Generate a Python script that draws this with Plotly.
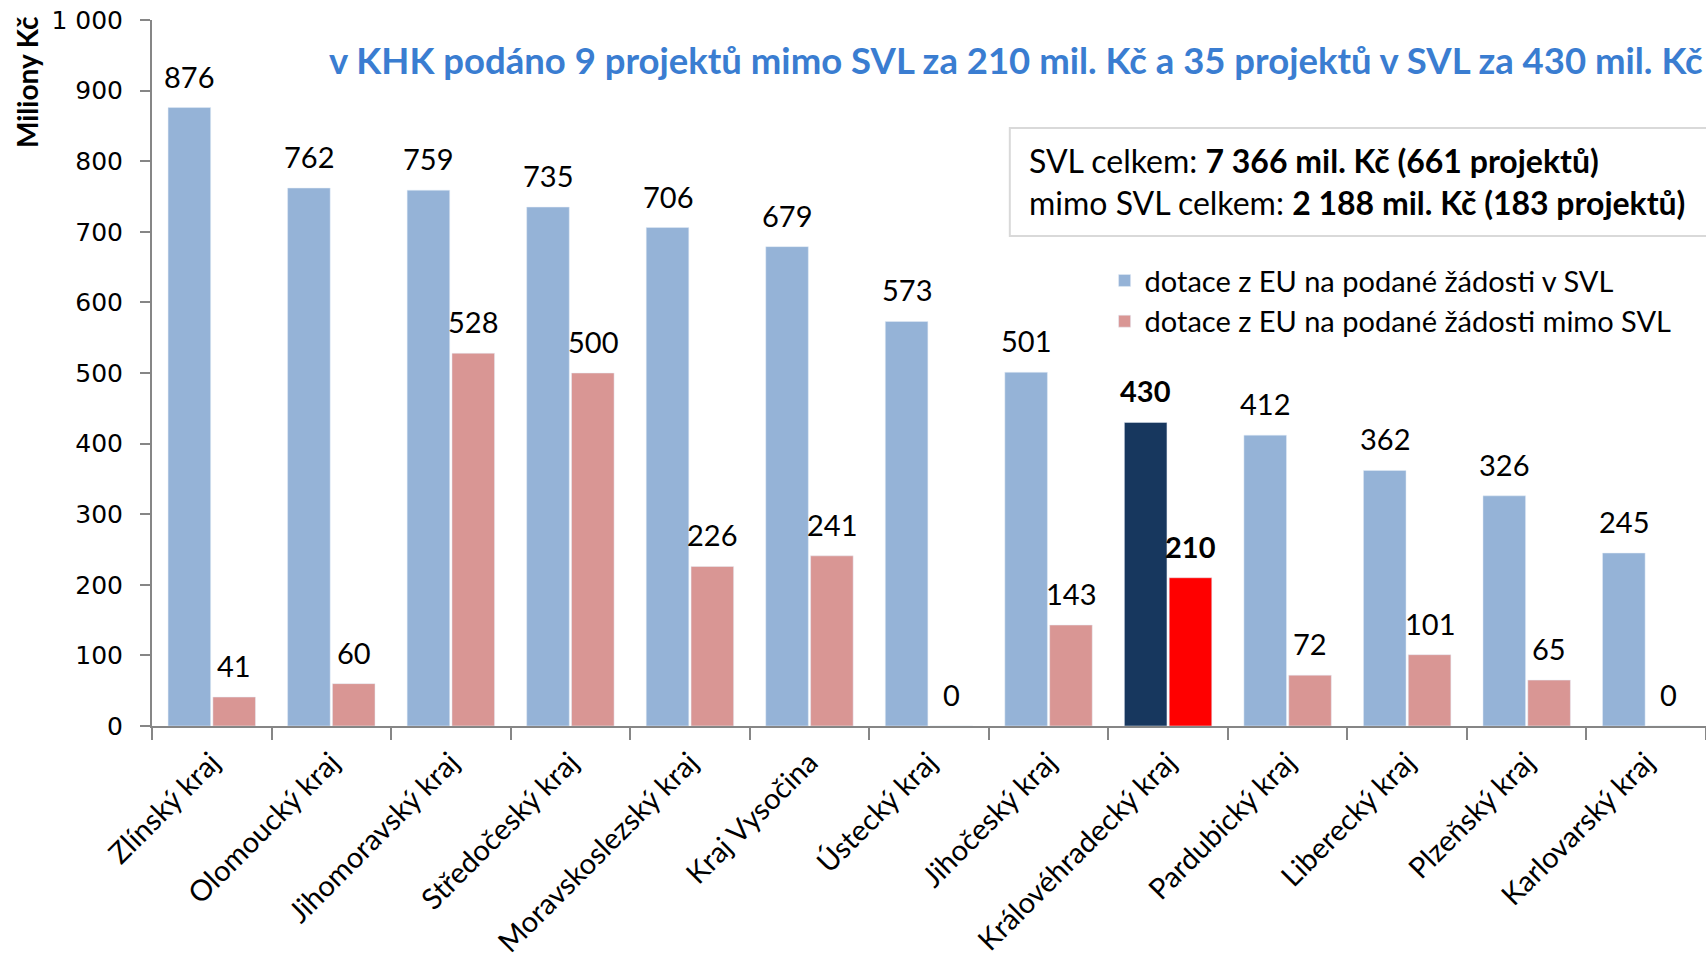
import plotly.graph_objects as go

categories = ["Zlínský kraj", "Olomoucký kraj", "Jihomoravský kraj", "Středočeský kraj",
              "Moravskoslezský kraj", "Kraj Vysočina", "Ústecký kraj", "Jihočeský kraj",
              "Královéhradecký kraj", "Pardubický kraj", "Liberecký kraj", "Plzeňský kraj",
              "Karlovarský kraj"]
svl = [876, 762, 759, 735, 706, 679, 573, 501, 430, 412, 362, 326, 245]
mimo_svl = [41, 60, 528, 500, 226, 241, 0, 143, 210, 72, 101, 65, 0]
y_ticks = [0, 100, 200, 300, 400, 500, 600, 700, 800, 900, 1000]
y_tick_labels = ["0", "100", "200", "300", "400", "500", "600", "700", "800", "900", "1 000"]
highlight = "Královéhradecký kraj"

BLUE = "#95B3D7"
RED = "#D99694"
DARK = "#17375E"
BRIGHT_RED = "#FF0000"
FONT = "Lato, 'Open Sans', sans-serif"

W, H = 1706, 962
ML, MR, MT, MB = 152, 0, 20, 236
BARGAP, GROUPGAP = 0.25, 0.05

def colors(base, hl):
    return [hl if c == highlight else base for c in categories]

def labels(vals):
    return [f"<b>{v}</b>" if c == highlight else str(v) for c, v in zip(categories, vals)]

fig = go.Figure()
fig.add_trace(go.Bar(
    x=categories, y=svl, name="dotace z EU na podané žádosti v SVL",
    marker=dict(color=colors(BLUE, DARK)),
))
fig.add_trace(go.Bar(
    x=categories, y=mimo_svl, name="dotace z EU na podané žádosti mimo SVL",
    marker=dict(color=colors(RED, BRIGHT_RED)),
))

# data labels above each bar (offset in pixels to each bar of the pair)
slot = (W - ML - MR) / len(categories) * (1 - BARGAP) / 2
for vals, sign in ((svl, -1), (mimo_svl, 1)):
    for c, v, t in zip(categories, vals, labels(vals)):
        fig.add_annotation(x=c, y=v, text=t, showarrow=False, xanchor="center", yanchor="bottom",
                           xshift=sign * slot / 2, yshift=12,
                           font=dict(family=FONT, size=29, color="black"))

fig.update_layout(
    width=W, height=H,
    paper_bgcolor="white", plot_bgcolor="white",
    margin=dict(l=ML, r=MR, t=MT, b=MB),
    barmode="group", bargap=BARGAP, bargroupgap=GROUPGAP,
    font=dict(family=FONT, color="black"),
    showlegend=True,
    legend=dict(x=0.613, y=0.667, xanchor="left", yanchor="top",
                font=dict(family=FONT, size=29, color="black"),
                bgcolor="rgba(0,0,0,0)", tracegroupgap=6, itemwidth=30),
)
fig.update_yaxes(
    range=[0, 1000], tickvals=y_ticks, ticktext=y_tick_labels,
    showgrid=False, zeroline=False,
    showline=True, linecolor="#868686", linewidth=2,
    ticks="outside", ticklen=10, tickcolor="#868686", tickwidth=2,
    ticklabelstandoff=12,
    tickfont=dict(family="DejaVu Sans", size=25, color="black"),
)
fig.update_xaxes(
    showgrid=False, showline=True, linecolor="#868686", linewidth=2,
    ticks="outside", ticklen=12, tickcolor="#868686", tickwidth=2,
    tickson="boundaries", tickangle=-45, ticklabelstandoff=6,
    tickfont=dict(family=FONT, size=29, color="black"),
)

# y-axis title placed at top-left
fig.add_annotation(text="Miliony Kč", xref="paper", yref="paper",
                   x=-0.0805, y=0.912, xanchor="center", yanchor="middle",
                   textangle=-90, showarrow=False,
                   font=dict(family=FONT, size=28, color="black", weight="bold"))
# subtitle
fig.add_annotation(text="v KHK podáno 9 projektů mimo SVL za 210 mil. Kč a 35 projektů v SVL za 430 mil. Kč",
                   xref="paper", yref="paper", x=0.9995, y=0.944, xanchor="right", yanchor="middle",
                   showarrow=False, font=dict(family=FONT, size=36.5, color="#3A7DD1", weight="bold"))
# summary box
fig.add_shape(type="rect", xref="paper", yref="paper", x0=0.552, x1=1.01, y0=0.694, y1=0.847,
              line=dict(color="#D9D9D9", width=2), fillcolor="white", layer="above")
fig.add_annotation(text="SVL celkem: <b>7 366 mil. Kč (661 projektů)</b><br>mimo SVL celkem: <b>2 188 mil. Kč (183 projektů)</b>",
                   xref="paper", yref="paper", x=0.563, y=0.771, xanchor="left", yanchor="middle",
                   align="left", showarrow=False,
                   font=dict(family=FONT, size=32, color="black"))

fig.write_html("out.html", config={"displayModeBar": False},
               post_script="document.body.style.margin='0';document.body.style.overflow='hidden';")
